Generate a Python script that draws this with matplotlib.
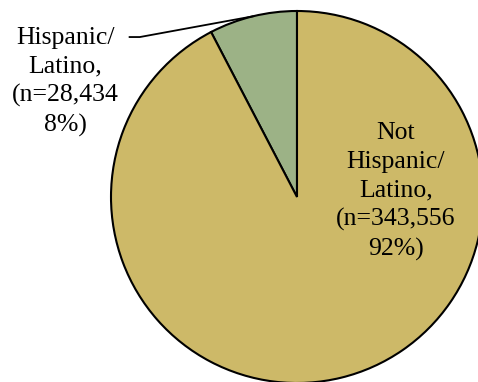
import numpy as np
import matplotlib
matplotlib.use("Agg")
import matplotlib.pyplot as plt

categories = ["Hispanic/\nLatino,", "Not\nHispanic/\nLatino,"]
counts = [28434, 343556]
pct_labels = ["8%)", "92%)"]
colors = ["#9CB286", "#CDB968"]

plt.rcParams['font.family'] = ['Liberation Serif', 'DejaVu Serif']

fig = plt.figure(figsize=(4.78, 3.82), dpi=100)
ax = fig.add_axes([0, 0, 1, 1])
wedges, _ = ax.pie(counts, colors=colors, startangle=90, counterclock=True,
                   wedgeprops=dict(edgecolor="black", linewidth=1.5))
ax.set_aspect('auto')
R = 186.0
ax.set_xlim(-297 / R, (478 - 297) / R)
ax.set_ylim(-(382 - 197) / R, 197 / R)

fs = 18.5
lab0 = f"{categories[0]}\n(n={counts[0]:,}\n{pct_labels[0]}"
lab1 = f"{categories[1]}\n(n={counts[1]:,}\n{pct_labels[1]}"
ax.text(-1.247, 0.62, lab0, ha="center", va="center", fontsize=fs, linespacing=1.38)
ax.text(0.532, 0.03, lab1, ha="center", va="center", fontsize=fs, linespacing=1.38)

# leader line
w = wedges[0]
mid = np.deg2rad((w.theta1 + w.theta2) / 2)
px, py = np.cos(mid), np.sin(mid)
ax.plot([-0.90, -0.845, px], [0.86, 0.86, py], color="black", lw=1.3, clip_on=False)

fig.savefig("out.png", dpi=100)
